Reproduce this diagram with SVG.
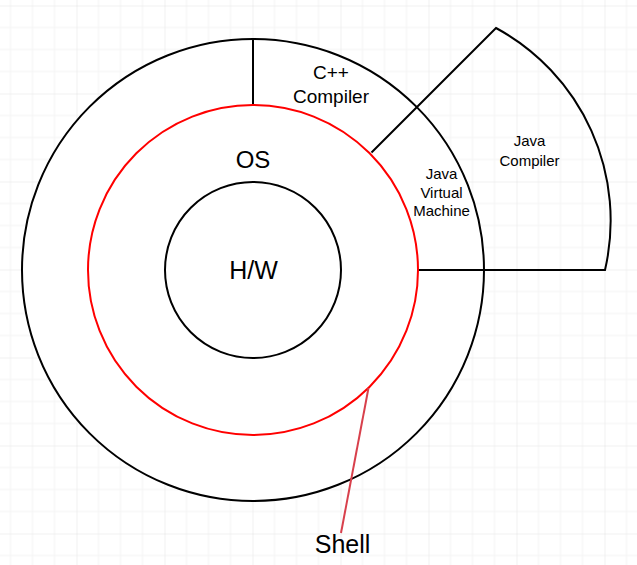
<svg xmlns="http://www.w3.org/2000/svg" width="637" height="565" viewBox="0 0 637 565">
<style>
  .blk{fill:none;stroke:#000;stroke-width:2}
  .red{fill:none;stroke:#ff0000;stroke-width:2}
  text{font-family:"Liberation Sans",Arial,sans-serif;fill:#000;text-anchor:middle}
  .minor{stroke:#f3f3f3;stroke-width:1}
  .major{stroke:#e2e2e2;stroke-width:1}
</style>
<defs>
  <pattern id="grid" patternUnits="userSpaceOnUse" x="-11.5" y="5.5" width="88" height="88">
    <path class="minor" d="M22,0V88M44,0V88M66,0V88M0,22H88M0,44H88M0,66H88"/>
    <path class="major" d="M0,0V88M0,0H88"/>
  </pattern>
</defs>
<rect width="637" height="565" fill="#fff"/>
<rect width="637" height="565" fill="url(#grid)"/>

<g id="outer-ring">
  <circle class="blk" cx="253" cy="270" r="231" fill="#fff" style="fill:#fff"/>
</g>
<g id="java-compiler">
  <path class="blk" d="M371.5,152.5 L496,28 A219,219 0 0 1 605,270 L418,270" style="fill:none"/>
  <text font-size="15"><tspan x="529.5" y="145.5">Java</tspan><tspan x="529.5" y="165.5">Compiler</tspan></text>
</g>
<g id="cpp-compiler">
  <line class="blk" x1="253" y1="39" x2="253" y2="105"/>
  <text font-size="19"><tspan x="331" y="79">C++</tspan><tspan x="331" y="102.5">Compiler</tspan></text>
</g>
<g id="jvm">
  <text font-size="15"><tspan x="441.5" y="179">Java</tspan><tspan x="441.5" y="197.5">Virtual</tspan><tspan x="441.5" y="216">Machine</tspan></text>
</g>
<g id="os">
  <circle class="red" cx="253" cy="270" r="165"/>
  <text x="253" y="168" font-size="24">OS</text>
</g>
<g id="hw">
  <circle class="blk" cx="253" cy="270" r="88"/>
  <text x="253.5" y="279" font-size="25">H/W</text>
</g>
<g id="connectors">
  <line x1="368.5" y1="388" x2="341" y2="533" stroke="#d8404c" stroke-width="2"/>
</g>
<g id="shell">
  <text x="342.5" y="553" font-size="25">Shell</text>
</g>
</svg>
